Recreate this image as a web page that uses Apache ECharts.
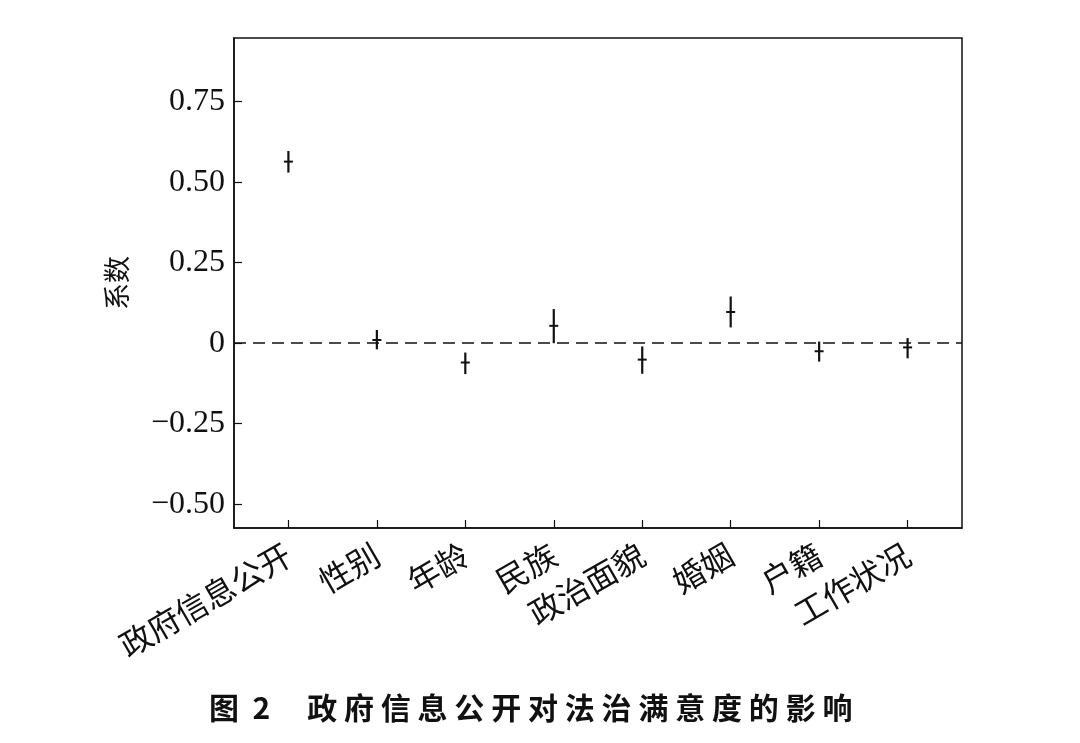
<!DOCTYPE html>
<html>
<head>
<meta charset="utf-8">
<script src="https://cdn.jsdelivr.net/npm/echarts@6/dist/echarts.min.js"></script>
<style>
html,body{margin:0;padding:0;background:#fff;}
#main{width:1080px;height:743px;}
</style>
</head>
<body>
<div id="main"></div>
<script>
const categories = ['政府信息公开','性别','年龄','民族','政治面貌','婚姻','户籍','工作状况'];
const estimates = [0.564, 0.010, -0.060, 0.054, -0.051, 0.097, -0.025, -0.013];
const lowerCI  = [0.530, -0.019, -0.096, 0.000, -0.095, 0.049, -0.057, -0.047];
const upperCI  = [0.597, 0.041, -0.029, 0.106, -0.010, 0.145, 0.005, 0.016];
const yTicks = [-0.5, -0.25, 0, 0.25, 0.5, 0.75];
const xTicks = [0,1,2,3,4,5,6,7];
const yName = '系数';
const caption = '图 2';
const captionTitle = '政府信息公开对法治满意度的影响';

const chart = echarts.init(document.getElementById('main'));
const data = categories.map((c,i)=>[i, estimates[i], lowerCI[i], upperCI[i]]);

function fmtY(v){
  if (Math.abs(v) < 1e-9) return '0';
  const s = Math.abs(v).toFixed(2);
  return (v < 0 ? '\u2212' : '') + s;
}

chart.setOption({
  animation:false,
  backgroundColor:'#fff',
  title:{
    text: caption.replace(' ', '  ') + '\u3000 ' + captionTitle.split('').join(' '),
    left: 204, top: 688,
    textStyle:{fontFamily:'Noto Sans CJK SC', fontWeight:'bold', fontSize:30, color:'#111'}
  },
  grid:{left:234, right:118, top:38, bottom:215, show:true, borderColor:'#111', borderWidth:1.5, backgroundColor:'transparent'},
  xAxis:{
    type:'value', min:-0.615, max:7.615,
    splitLine:{show:false},
    axisLine:{show:true, onZero:false, lineStyle:{color:'#111', width:1.5}},
    axisTick:{show:true, inside:true, length:8, customValues:xTicks, lineStyle:{color:'#111', width:1.2}},
    axisLabel:{
      customValues:xTicks, rotate:30, margin:24,
      formatter:v=>categories[Math.round(v)],
      fontFamily:'Noto Sans CJK SC', fontSize:32, color:'#111'
    }
  },
  yAxis:{
    type:'value', min:-0.574, max:0.948,
    name: yName, nameLocation:'middle', nameGap:104, nameRotate:90,
    nameTextStyle:{fontFamily:'Noto Sans CJK SC', fontSize:27, color:'#111'},
    splitLine:{show:false},
    axisLine:{show:true, onZero:false, lineStyle:{color:'#111', width:1.5}},
    axisTick:{show:true, inside:true, length:8, customValues:yTicks, lineStyle:{color:'#111', width:1.2}},
    axisLabel:{
      customValues:yTicks, margin:9,
      formatter:fmtY,
      fontFamily:'Liberation Serif', fontSize:32, color:'#111'
    }
  },
  series:[{
    type:'custom',
    data:data,
    encode:{x:0, y:[1,2,3]},
    renderItem:function(params, api){
      const x = api.value(0);
      const p = api.coord([x, api.value(1)]);
      const lo = api.coord([x, api.value(2)]);
      const hi = api.coord([x, api.value(3)]);
      return {type:'group', children:[
        {type:'line', shape:{x1:lo[0], y1:lo[1], x2:hi[0], y2:hi[1]}, style:{stroke:'#111', lineWidth:2.2}},
        {type:'line', shape:{x1:p[0]-4.5, y1:p[1], x2:p[0]+4.5, y2:p[1]}, style:{stroke:'#111', lineWidth:2}}
      ]};
    },
    markLine:{
      silent:true, symbol:'none', label:{show:false},
      lineStyle:{color:'#111', type:[12,7], width:1.6},
      data:[{yAxis:0}]
    },
    z:3
  }]
});
</script>
</body>
</html>
